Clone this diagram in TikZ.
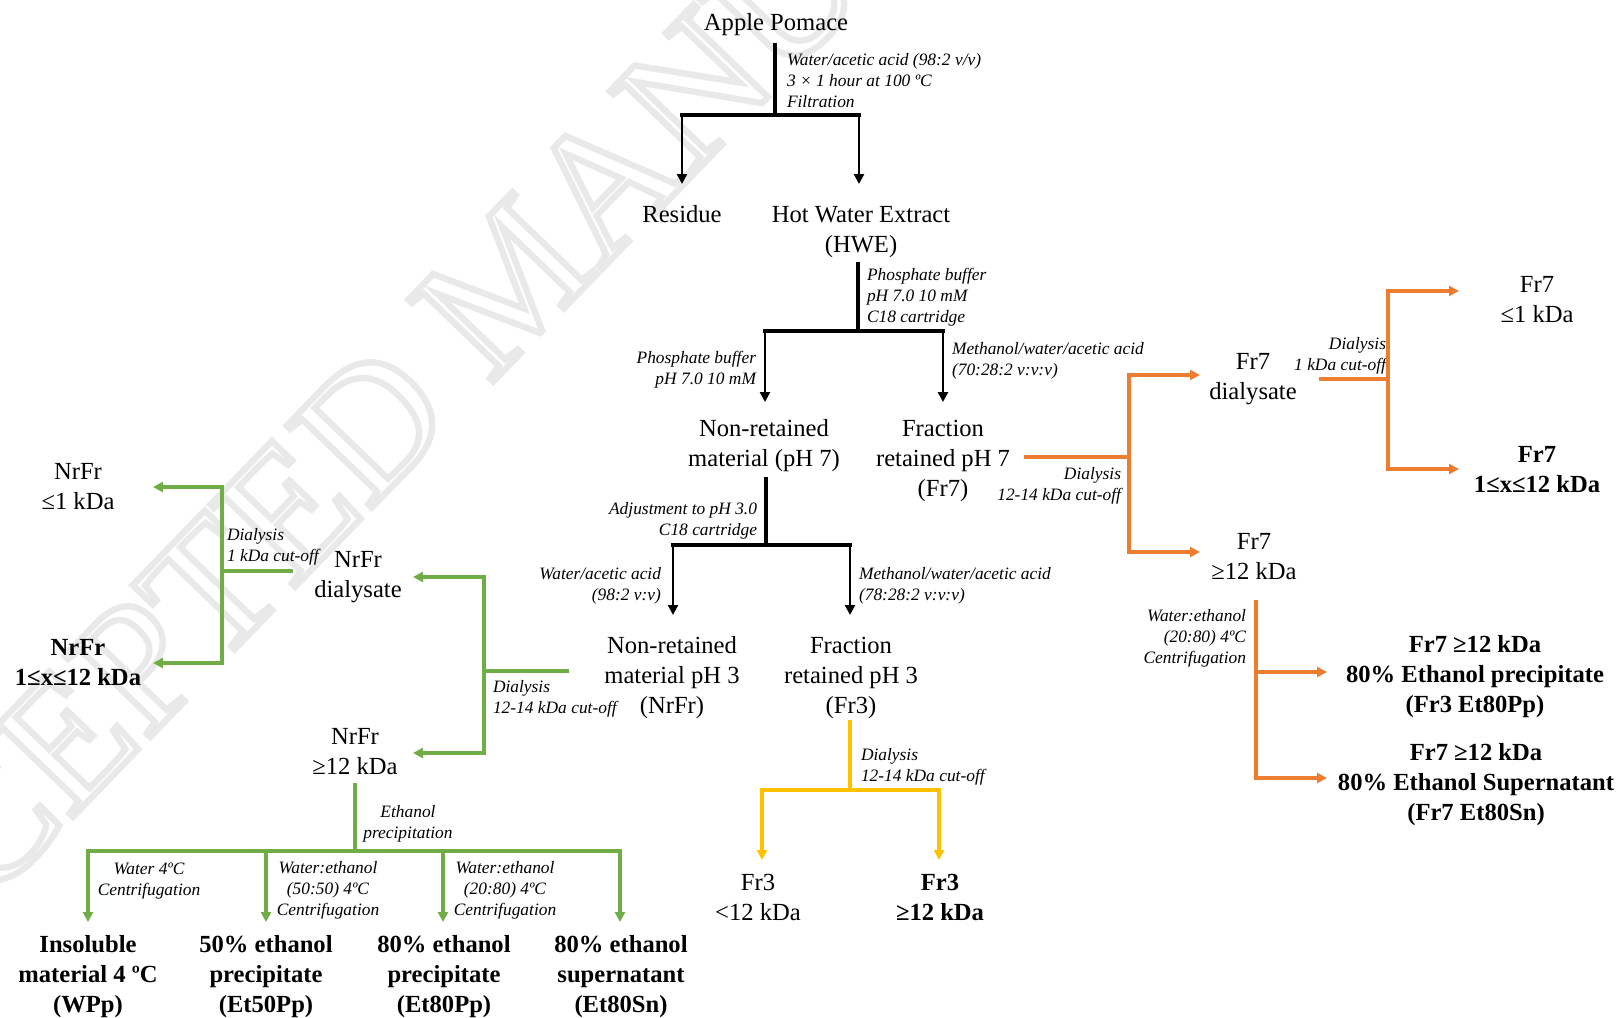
\documentclass[tikz,border=0pt]{standalone}
\usepackage{fontspec}
\setmainfont{Liberation Serif}
\usetikzlibrary{arrows.meta}
\definecolor{orn}{HTML}{ED7D31}
\definecolor{grn}{HTML}{70AD47}
\definecolor{yel}{HTML}{FFC000}
\definecolor{wmark}{HTML}{E9E9E9}
\newcommand{\outlinetext}[1]{\special{pdf:literal direct 1 Tr 3.2 w}#1\special{pdf:literal direct 0 Tr}}
\begin{document}
\begin{tikzpicture}[x=0.5pt,y=-0.5pt,
  main/.style={inner sep=0pt,outer sep=0pt,align=center,font=\fontsize{12.3}{15}\selectfont},
  bmain/.style={inner sep=0pt,outer sep=0pt,align=center,font=\fontsize{12.3}{15}\selectfont\bfseries},
  lbl/.style={inner sep=0pt,outer sep=0pt,font=\fontsize{8.7}{10.5}\selectfont\itshape},
  lblL/.style={lbl,anchor=west,align=left},
  lblR/.style={lbl,anchor=east,align=right},
  lblC/.style={lbl,align=center},
  tip/.style={-{Triangle[length=5pt,width=5pt]}},
  stem/.style={line width=2pt,black},
  blkarr/.style={line width=1.2pt,black,tip},
  oarr/.style={line width=1.6pt,orn,tip},
  garr/.style={line width=1.7pt,grn,tip},
  yarr/.style={line width=1.7pt,yel,tip}
]
\useasboundingbox (0,0) rectangle (1621,1017);
% watermark
\begin{scope}
\clip (0,0) rectangle (1621,1017);
\node[inner sep=0pt,anchor=base west,rotate=46,text=wmark,font=\fontsize{90}{90}\selectfont] (wm) at (-188,1087) {\outlinetext{ACCEPTED MANUSCRIPT}};
\end{scope}

% ---------- black: top ----------
\node[main] (ap) at (776,25) {Apple Pomace};
\node[lblL] (l1) at (787,81) {Water/acetic acid (98:2 v/v)\\3 × 1 hour at 100 ºC\\Filtration};
\node[main] (res) at (682,214) {Residue};
\node[main] (hwe) at (861,232) {Hot Water Extract\\(HWE)};
\coordinate (ap-o) at (775,43);
\coordinate (j1) at (775,115);
\coordinate (j1l) at (682,115);
\coordinate (j1r) at (859,115);
\coordinate (res-i) at (682,184);
\coordinate (hwe-i) at (859,184);
\draw[stem] (ap-o) -- (j1);
\draw[stem] ([xshift=-1pt]j1l) -- ([xshift=1pt]j1r);
\draw[blkarr] (j1l) -- (res-i);
\draw[blkarr] (j1r) -- (hwe-i);

% ---------- black: HWE ----------
\node[lblL] (l2) at (867,297) {Phosphate buffer\\pH 7.0 10 mM\\C18 cartridge};
\node[lblR] (l3) at (756,370) {Phosphate buffer\\pH 7.0 10 mM};
\node[lblL] (l4) at (952,361) {Methanol/water/acetic acid\\(70:28:2 v:v:v)};
\node[main] (nr7) at (764,446) {Non-retained\\material (pH 7)};
\node[main] (f7) at (943,461) {Fraction\\retained pH 7\\(Fr7)};
\coordinate (hwe-o) at (858,262);
\coordinate (j2) at (858,331);
\coordinate (j2l) at (765,331);
\coordinate (j2r) at (943,331);
\coordinate (nr7-i) at (765,402);
\coordinate (f7-i) at (943,402);
\draw[stem] (hwe-o) -- (j2);
\draw[stem] ([xshift=-1pt]j2l) -- ([xshift=1pt]j2r);
\draw[blkarr] (j2l) -- (nr7-i);
\draw[blkarr] (j2r) -- (f7-i);

% ---------- black: non-retained pH 7 ----------
\node[lblR] (l5) at (757,521) {Adjustment to pH 3.0\\C18 cartridge};
\node[lblR] (l6) at (661,586) {Water/acetic acid\\(98:2 v:v)};
\node[lblL] (l7) at (859,586) {Methanol/water/acetic acid\\(78:28:2 v:v:v)};
\node[main] (nr3) at (672,678) {Non-retained\\material pH 3\\(NrFr)};
\node[main] (f3) at (851,678) {Fraction\\retained pH 3\\(Fr3)};
\coordinate (nr7-o) at (766,477);
\coordinate (j3) at (766,545);
\coordinate (j3l) at (673,545);
\coordinate (j3r) at (850,545);
\coordinate (nr3-i) at (673,615);
\coordinate (f3-i) at (850,615);
\draw[stem] (nr7-o) -- (j3);
\draw[stem] ([xshift=-1pt]j3l) -- ([xshift=1pt]j3r);
\draw[blkarr] (j3l) -- (nr3-i);
\draw[blkarr] (j3r) -- (f3-i);

% ---------- yellow: Fr3 ----------
\node[lblL] (l8) at (861,767) {Dialysis\\12-14 kDa cut-off};
\node[main] (f3a) at (758,897) {Fr3\\<12 kDa};
\node[bmain] (f3b) at (940,897) {Fr3\\≥12 kDa};
\coordinate (f3-o) at (850,720);
\coordinate (j4) at (850,790);
\coordinate (f3a-i) at (762,860);
\coordinate (f3b-i) at (939,860);
\draw[yarr] (f3-o) -- (j4) -| (f3a-i);
\draw[yarr] (j4) -| (f3b-i);

% ---------- orange: Fr7 ----------
\node[lblR] (l9) at (1121,486) {Dialysis\\12-14 kDa cut-off};
\node[main] (f7d) at (1253,379) {Fr7\\dialysate};
\node[main] (f7h) at (1254,557) {Fr7\\≥12 kDa};
\coordinate (f7-o) at (1024,457);
\coordinate (j5) at (1129,457);
\coordinate (f7d-i) at (1200,375);
\coordinate (f7h-i) at (1200,552);
\draw[oarr] (f7-o) -- (j5) |- (f7d-i);
\draw[oarr] (j5) |- (f7h-i);

\node[lblR] (l10) at (1386,356) {Dialysis\\1 kDa cut-off};
\node[main] (f7l) at (1537,300) {Fr7\\≤1 kDa};
\node[bmain] (f7m) at (1537,470) {Fr7\\1≤x≤12 kDa};
\coordinate (f7d-o) at (1319,379);
\coordinate (j6) at (1388,379);
\coordinate (f7l-i) at (1459,291);
\coordinate (f7m-i) at (1459,469);
\draw[oarr] (f7d-o) -- (j6) |- (f7l-i);
\draw[oarr] (j6) |- (f7m-i);

\node[lblR] (l11) at (1246,638) {Water:ethanol\\(20:80) 4ºC\\Centrifugation};
\node[bmain] (b1) at (1475,677) {Fr7 ≥12 kDa\\80\% Ethanol precipitate\\(Fr3 Et80Pp)};
\node[bmain] (b2) at (1476,785) {Fr7 ≥12 kDa\\80\% Ethanol Supernatant\\(Fr7 Et80Sn)};
\coordinate (f7h-o) at (1256,600);
\coordinate (b1-i) at (1327,672);
\coordinate (b2-i) at (1327,778);
\draw[oarr] (f7h-o) |- (b1-i);
\draw[oarr] (f7h-o) |- (b2-i);

% ---------- green: NrFr ----------
\node[lblL] (l12) at (493,699) {Dialysis\\12-14 kDa cut-off};
\node[main] (nrd) at (358,577) {NrFr\\dialysate};
\node[main] (nr12) at (355,752) {NrFr\\≥12 kDa};
\coordinate (nr3-o) at (569,671);
\coordinate (j7) at (484,671);
\coordinate (nrd-i) at (413,577);
\coordinate (nr12-i) at (413,753);
\draw[garr] (nr3-o) -- (j7) |- (nrd-i);
\draw[garr] (j7) |- (nr12-i);

\node[lblL] (l13) at (227,547) {Dialysis\\1 kDa cut-off};
\node[main] (nr1) at (78,487) {NrFr\\≤1 kDa};
\node[bmain] (nr112) at (78,663) {NrFr\\1≤x≤12 kDa};
\coordinate (nrd-o) at (293,571);
\coordinate (j8) at (222,571);
\coordinate (nr1-i) at (153,487);
\coordinate (nr112-i) at (153,663);
\draw[garr] (nrd-o) -- (j8) |- (nr1-i);
\draw[garr] (j8) |- (nr112-i);

\node[lblC] (l14) at (408,824) {Ethanol\\precipitation};
\node[lblC] (l15) at (149,881) {Water 4ºC\\Centrifugation};
\node[lblC] (l16) at (328,890) {Water:ethanol\\(50:50) 4ºC\\Centrifugation};
\node[lblC] (l17) at (505,890) {Water:ethanol\\(20:80) 4ºC\\Centrifugation};
\node[bmain] (wpp) at (88,977) {Insoluble\\material 4 ºC\\(WPp)};
\node[bmain] (e50) at (266,977) {50\% ethanol\\precipitate\\(Et50Pp)};
\node[bmain] (e80p) at (444,977) {80\% ethanol\\precipitate\\(Et80Pp)};
\node[bmain] (e80s) at (621,977) {80\% ethanol\\supernatant\\(Et80Sn)};
\coordinate (nr12-o) at (355,783);
\coordinate (j9) at (355,851);
\coordinate (wpp-i) at (88,922);
\coordinate (e50-i) at (266,922);
\coordinate (e80p-i) at (443,922);
\coordinate (e80s-i) at (620,922);
\draw[garr] (nr12-o) -- (j9) -| (wpp-i);
\draw[garr] (j9) -| (e50-i);
\draw[garr] (j9) -| (e80p-i);
\draw[garr] (j9) -| (e80s-i);
\end{tikzpicture}
\end{document}
